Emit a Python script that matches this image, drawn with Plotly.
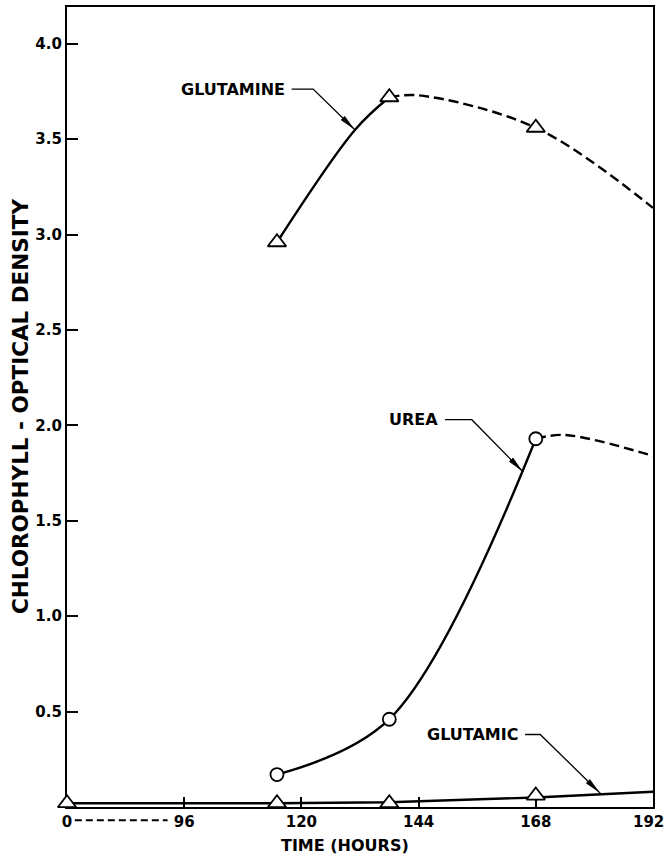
import math
import plotly.graph_objects as go

# Measured chlorophyll optical density (hours after start of culture)
glutamine_hours = [115, 138, 168]
glutamine_od = [2.96, 3.72, 3.56]

urea_hours = [115, 138, 168]
urea_od = [0.17, 0.46, 1.93]

glutamic_hours = [0, 115, 138, 168]
glutamic_od = [0.02, 0.02, 0.02, 0.06]

# Curves as drawn: solid over the measured span, dashed extension to 192 h
glutamine_solid_hours = [115, 131, 138]
glutamine_solid_od = [2.96, 3.55, 3.72]
glutamine_dash_hours = [138, 144, 168, 192]
glutamine_dash_od = [3.72, 3.73, 3.56, 3.14]

urea_solid_hours = [115, 138, 168]
urea_solid_od = [0.17, 0.46, 1.93]
urea_dash_hours = [168, 174, 192]
urea_dash_od = [1.93, 1.95, 1.84]

glutamic_line_hours = [0, 115, 138, 168, 192]
glutamic_line_od = [0.02, 0.02, 0.025, 0.05, 0.08]

# Axis ticks
x_tick_hours = [0, 96, 120, 144, 168, 192]
x_tick_labels = ["0", "96", "120", "144", "168", "192"]
y_tick_values = [0.5, 1.0, 1.5, 2.0, 2.5, 3.0, 3.5, 4.0]
y_tick_labels = ["0.5", "1.0", "1.5", "2.0", "2.5", "3.0", "3.5", "4.0"]

FONT = "DejaVu Sans"
W, H = 666, 857
MARGIN = dict(l=67, r=13, t=7, b=50, autoexpand=False)
X_MAX = 120.0
Y_MAX = 4.193
PX_X = (W - MARGIN["l"] - MARGIN["r"]) / X_MAX
PX_Y = (H - MARGIN["t"] - MARGIN["b"]) / Y_MAX

BREAK = 96


def pos(h):
    """Broken time axis: 0-96 h is squeezed into one 24 h interval."""
    return h * 24 / BREAK if h <= BREAK else h - BREAK + 24


def xs(hours):
    return [pos(h) for h in hours]


fig = go.Figure()

line_solid = dict(color="black", width=2.4, shape="spline")
line_dash = dict(color="black", width=2.4, shape="spline", dash="10px,5px")

fig.add_trace(go.Scatter(x=xs(glutamic_line_hours), y=glutamic_line_od,
                         mode="lines", line=dict(color="black", width=2.4),
                         hoverinfo="skip", showlegend=False))
fig.add_trace(go.Scatter(x=xs(glutamine_solid_hours), y=glutamine_solid_od,
                         mode="lines", line=line_solid, showlegend=False))
fig.add_trace(go.Scatter(x=xs(glutamine_dash_hours), y=glutamine_dash_od,
                         mode="lines", line=line_dash, showlegend=False))
fig.add_trace(go.Scatter(x=xs(urea_solid_hours), y=urea_solid_od,
                         mode="lines", line=line_solid, showlegend=False))
fig.add_trace(go.Scatter(x=xs(urea_dash_hours), y=urea_dash_od,
                         mode="lines", line=line_dash, showlegend=False))

tri = dict(symbol="triangle-up", size=16, color="white",
           line=dict(color="black", width=1.8))
circ = dict(symbol="circle", size=13, color="white",
            line=dict(color="black", width=1.8))
fig.add_trace(go.Scatter(x=xs(glutamine_hours), y=glutamine_od, mode="markers",
                         marker=tri, cliponaxis=False, name="Glutamine",
                         showlegend=False))
fig.add_trace(go.Scatter(x=xs(glutamic_hours), y=glutamic_od, mode="markers",
                         marker=tri, cliponaxis=False, name="Glutamic",
                         showlegend=False))
fig.add_trace(go.Scatter(x=xs(urea_hours), y=urea_od, mode="markers",
                         marker=circ, cliponaxis=False, name="Urea",
                         showlegend=False))

shapes = []
annotations = []


def label_with_arrow(text, text_end_h, leader_h, y_text, tip_h, tip_y):
    """Label text, a short horizontal leader, then a diagonal arrow to the curve."""
    annotations.append(dict(
        text=text, x=pos(text_end_h), y=y_text, xref="x", yref="y",
        xanchor="right", yanchor="middle", showarrow=False,
        font=dict(family=FONT, size=16, color="black", weight="bold")))
    x0 = pos(text_end_h) + 1.0
    x1 = pos(leader_h)
    x2 = pos(tip_h)
    shapes.append(dict(
        type="path", xref="x", yref="y",
        path=f"M{x0},{y_text} L{x1},{y_text} L{x2},{tip_y}",
        line=dict(color="black", width=1.3)))
    # filled, narrow arrowhead sized in pixels
    dx = (x2 - x1) * PX_X
    dy = (tip_y - y_text) * PX_Y
    n = math.hypot(dx, dy)
    ux, uy = dx / n, dy / n
    length, width, back = 14.0, 5.0, 3.0
    tx, ty = -ux * back, -uy * back
    bx, by = tx - ux * length, ty - uy * length
    px, py = -uy * width / 2, ux * width / 2
    shapes.append(dict(
        type="path", xref="x", yref="y", xsizemode="pixel", ysizemode="pixel",
        xanchor=x2, yanchor=tip_y,
        path=f"M{tx:.2f},{ty:.2f} L{bx + px:.2f},{by + py:.2f} "
             f"L{bx - px:.2f},{by - py:.2f} Z",
        fillcolor="black", line=dict(color="black", width=0.8)))


label_with_arrow("GLUTAMINE", 117.0, 122.4, 3.763, 131.0, 3.548)
label_with_arrow("UREA", 148.4, 154.9, 2.03, 165.4, 1.756)
label_with_arrow("GLUTAMIC", 164.8, 168.9, 0.38, 181.2, 0.072)

# dashed run between the "0" and "96" tick labels marking the axis break
shapes.append(dict(
    type="line", xref="paper", yref="paper",
    x0=(pos(0) + 1.6) / X_MAX, x1=(pos(96) - 3.4) / X_MAX,
    y0=-0.0165, y1=-0.0165,
    line=dict(color="black", width=2, dash="7px,4px")))

tick_font = dict(family=FONT, size=15, color="black", weight="bold")

# the last time label sits against the page edge, so it is set right-aligned
x_ticktext_axis = x_tick_labels[:-1] + [""]
annotations.append(dict(
    text=x_tick_labels[-1], x=pos(x_tick_hours[-1]), y=0, xref="x",
    yref="paper", xanchor="right", yanchor="middle", xshift=13, yshift=-15,
    showarrow=False, font=tick_font))

annotations.append(dict(
    text="TIME (HOURS)", x=0.4744, y=-0.0475, xref="paper", yref="paper",
    xanchor="center", yanchor="middle", showarrow=False,
    font=dict(family=FONT, size=16, color="black", weight="bold")))
annotations.append(dict(
    text="CHLOROPHYLL - OPTICAL DENSITY", x=0, y=0.5, xref="paper",
    yref="paper", xanchor="center", yanchor="middle", xshift=-47,
    textangle=-90, showarrow=False,
    font=dict(family=FONT, size=21.5, color="black", weight="bold")))

axis_common = dict(showline=True, linecolor="black", linewidth=2.2, mirror=True,
                   showgrid=False, zeroline=False, ticks="inside",
                   tickcolor="black", tickwidth=1.8, layer="below traces",
                   automargin=False, tickfont=tick_font)

fig.update_layout(
    width=W, height=H, margin=MARGIN,
    paper_bgcolor="white", plot_bgcolor="white",
    showlegend=False,
    xaxis=dict(range=[0, X_MAX], tickmode="array",
               tickvals=xs(x_tick_hours), ticktext=x_ticktext_axis,
               ticklen=10, **axis_common),
    yaxis=dict(range=[0, Y_MAX], tickmode="array",
               tickvals=y_tick_values, ticktext=y_tick_labels,
               ticklen=11, **axis_common),
    shapes=shapes, annotations=annotations,
)

fig.write_html("out.html")
